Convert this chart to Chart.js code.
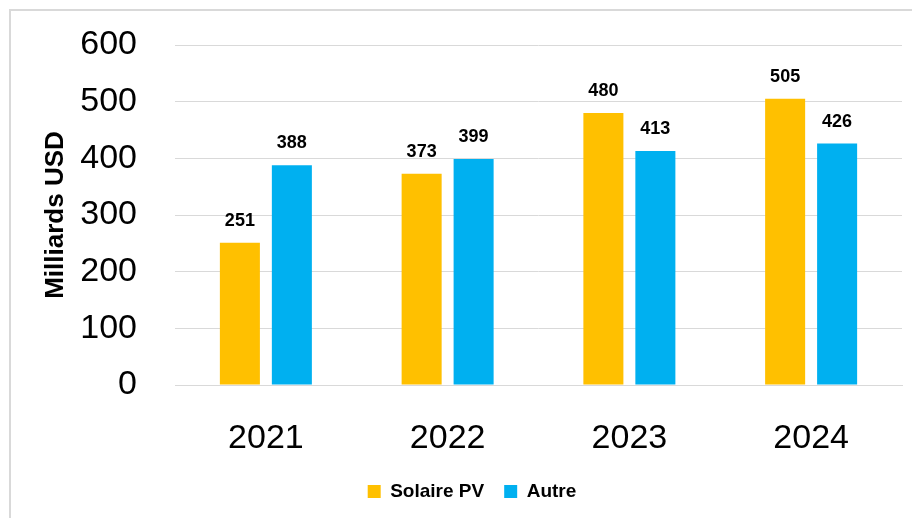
<!DOCTYPE html>
<html>
<head>
<meta charset="utf-8">
<script src="https://cdn.jsdelivr.net/npm/chart.js@4.4.1/dist/chart.umd.min.js"></script>
<style>
  html, body { margin: 0; padding: 0; background: #fff; overflow: hidden; }
  canvas { display: block; }
</style>
</head>
<body>
<canvas id="investChart" width="912" height="518"></canvas>
<script>
const years = ["2021", "2022", "2023", "2024"];
const solaireValues = [251, 373, 480, 505];
const autreValues = [388, 399, 413, 426];
const yTicks = [0, 100, 200, 300, 400, 500, 600];

const FONT = "'Liberation Sans', Arial, sans-serif";

// light grey frame around the chart (runs off the right/bottom edge)
const framePlugin = {
    id: "frame",
    beforeDraw(chart) {
        const ctx = chart.ctx;
        ctx.save();
        ctx.fillStyle = "#ffffff";
        ctx.fillRect(0, 0, chart.width, chart.height);
        ctx.strokeStyle = "#d9d9d9";
        ctx.lineWidth = 2;
        ctx.strokeRect(10, 10, chart.width + 20, chart.height + 20);
        ctx.restore();
    },
    afterLayout(chart) {
        // legend sits a little right of centre in the original
        chart.legend.left += 21;
        chart.legend.right += 21;
    }
};

// value labels above each bar
const valueLabels = {
    id: "valueLabels",
    afterDatasetsDraw(chart) {
        const ctx = chart.ctx;
        ctx.save();
        ctx.font = "bold 18px " + FONT;
        ctx.fillStyle = "#000";
        ctx.textAlign = "center";
        ctx.textBaseline = "alphabetic";
        chart.data.datasets.forEach((ds, i) => {
            chart.getDatasetMeta(i).data.forEach((bar, j) => {
                ctx.fillText(String(ds.data[j]), bar.x, bar.y - 17);
            });
        });
        ctx.restore();
    }
};

new Chart(document.getElementById("investChart"), {
    type: "bar",
    data: {
        labels: years,
        datasets: [
            { label: "Solaire PV", data: solaireValues, backgroundColor: "#ffc000" },
            { label: "Autre", data: autreValues, backgroundColor: "#00b0f0" }
        ]
    },
    options: {
        responsive: false,
        animation: false,
        devicePixelRatio: 1,
        layout: { padding: { top: 45, right: 10, left: 0, bottom: 7 } },
        datasets: { bar: { categoryPercentage: 0.572, barPercentage: 0.77 } },
        scales: {
            x: {
                grid: { display: false },
                border: { display: true, color: "#d9d9d9", width: 1 },
                ticks: { color: "#000", font: { family: FONT, size: 34 }, padding: 25 },
                afterFit(scale) { scale.height = 77; }
            },
            y: {
                min: 0, max: 600,
                afterBuildTicks(scale) { scale.ticks = yTicks.map(v => ({ value: v })); },
                grid: { color: "#d9d9d9", lineWidth: 1, drawTicks: false },
                border: { display: false },
                ticks: { color: "#000", font: { family: FONT, size: 34 }, padding: 38 },
                title: {
                    display: true, text: "Milliards USD", color: "#000",
                    font: { family: FONT, size: 26, weight: "bold" },
                    padding: { top: 40, bottom: 0 }
                },
                afterFit(scale) {
                    scale.width = 175;
                    scale.paddingTop = 0;
                    scale.paddingBottom = 0;
                }
            }
        },
        plugins: {
            legend: {
                position: "bottom",
                labels: {
                    color: "#000",
                    font: { family: FONT, size: 19, weight: "bold" },
                    boxWidth: 13, boxHeight: 13, padding: 20
                }
            },
            tooltip: { enabled: false }
        }
    },
    plugins: [framePlugin, valueLabels]
});
</script>
</body>
</html>
